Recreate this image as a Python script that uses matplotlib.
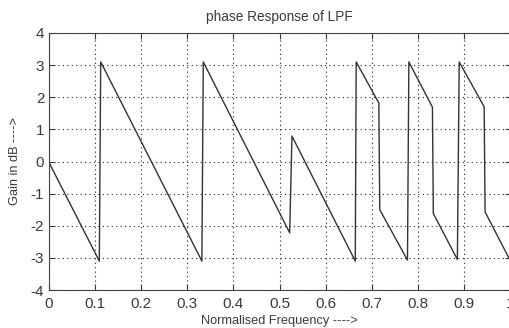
import numpy as np
import matplotlib
matplotlib.use('Agg')
from matplotlib import pyplot as plt

# breakpoints of the wrapped phase curve
freq = [0.0, 0.110, 0.113, 0.332, 0.335, 0.522, 0.527, 0.664, 0.666,
        0.715, 0.717, 0.777, 0.780, 0.831, 0.833, 0.885, 0.889, 0.943,
        0.945, 1.0]
phase = [0.0, -3.1, 3.1, -3.1, 3.1, -2.22, 0.79, -3.1, 3.1,
         1.82, -1.5, -3.07, 3.1, 1.69, -1.62, -3.05, 3.1, 1.70,
         -1.57, -3.1]

xticks = [0, 0.1, 0.2, 0.3, 0.4, 0.5, 0.6, 0.7, 0.8, 0.9, 1]
xlabels = ['0', '0.1', '0.2', '0.3', '0.4', '0.5', '0.6', '0.7', '0.8', '0.9', '1']
yticks = [-4, -3, -2, -1, 0, 1, 2, 3, 4]

txt = '#3a3a3a'
plt.rcParams['font.family'] = ['Liberation Sans', 'DejaVu Sans']
plt.rcParams['axes.unicode_minus'] = False

fig = plt.figure(figsize=(5.09, 3.28), dpi=100)
ax = fig.add_axes([48.5/509, 38/328, 462/509, 257/328])

ax.plot(freq, phase, color='#333333', linewidth=1.0)

ax.set_xlim(0, 1)
ax.set_ylim(-4, 4)
ax.set_xticks(xticks)
ax.set_xticklabels(xlabels)
ax.set_yticks(yticks)
ax.grid(True, linestyle=(0, (1, 3)), color='#222222', linewidth=0.8)
ax.tick_params(direction='in', top=True, right=True, length=4,
               labelsize=11, colors=txt, width=0.8, pad=3)
ax.tick_params(axis='x', pad=5)
for s in ax.spines.values():
    s.set_color('#444444')
    s.set_linewidth(0.8)

ax.set_title('phase Response of LPF', fontsize=9.8, color=txt, pad=9)
ax.set_xlabel('Normalised Frequency ---->', fontsize=9.2, color=txt, labelpad=3)
ax.set_ylabel('Gain in dB ---->', fontsize=9.2, color=txt, labelpad=7)

plt.savefig('out.png', dpi=100)
